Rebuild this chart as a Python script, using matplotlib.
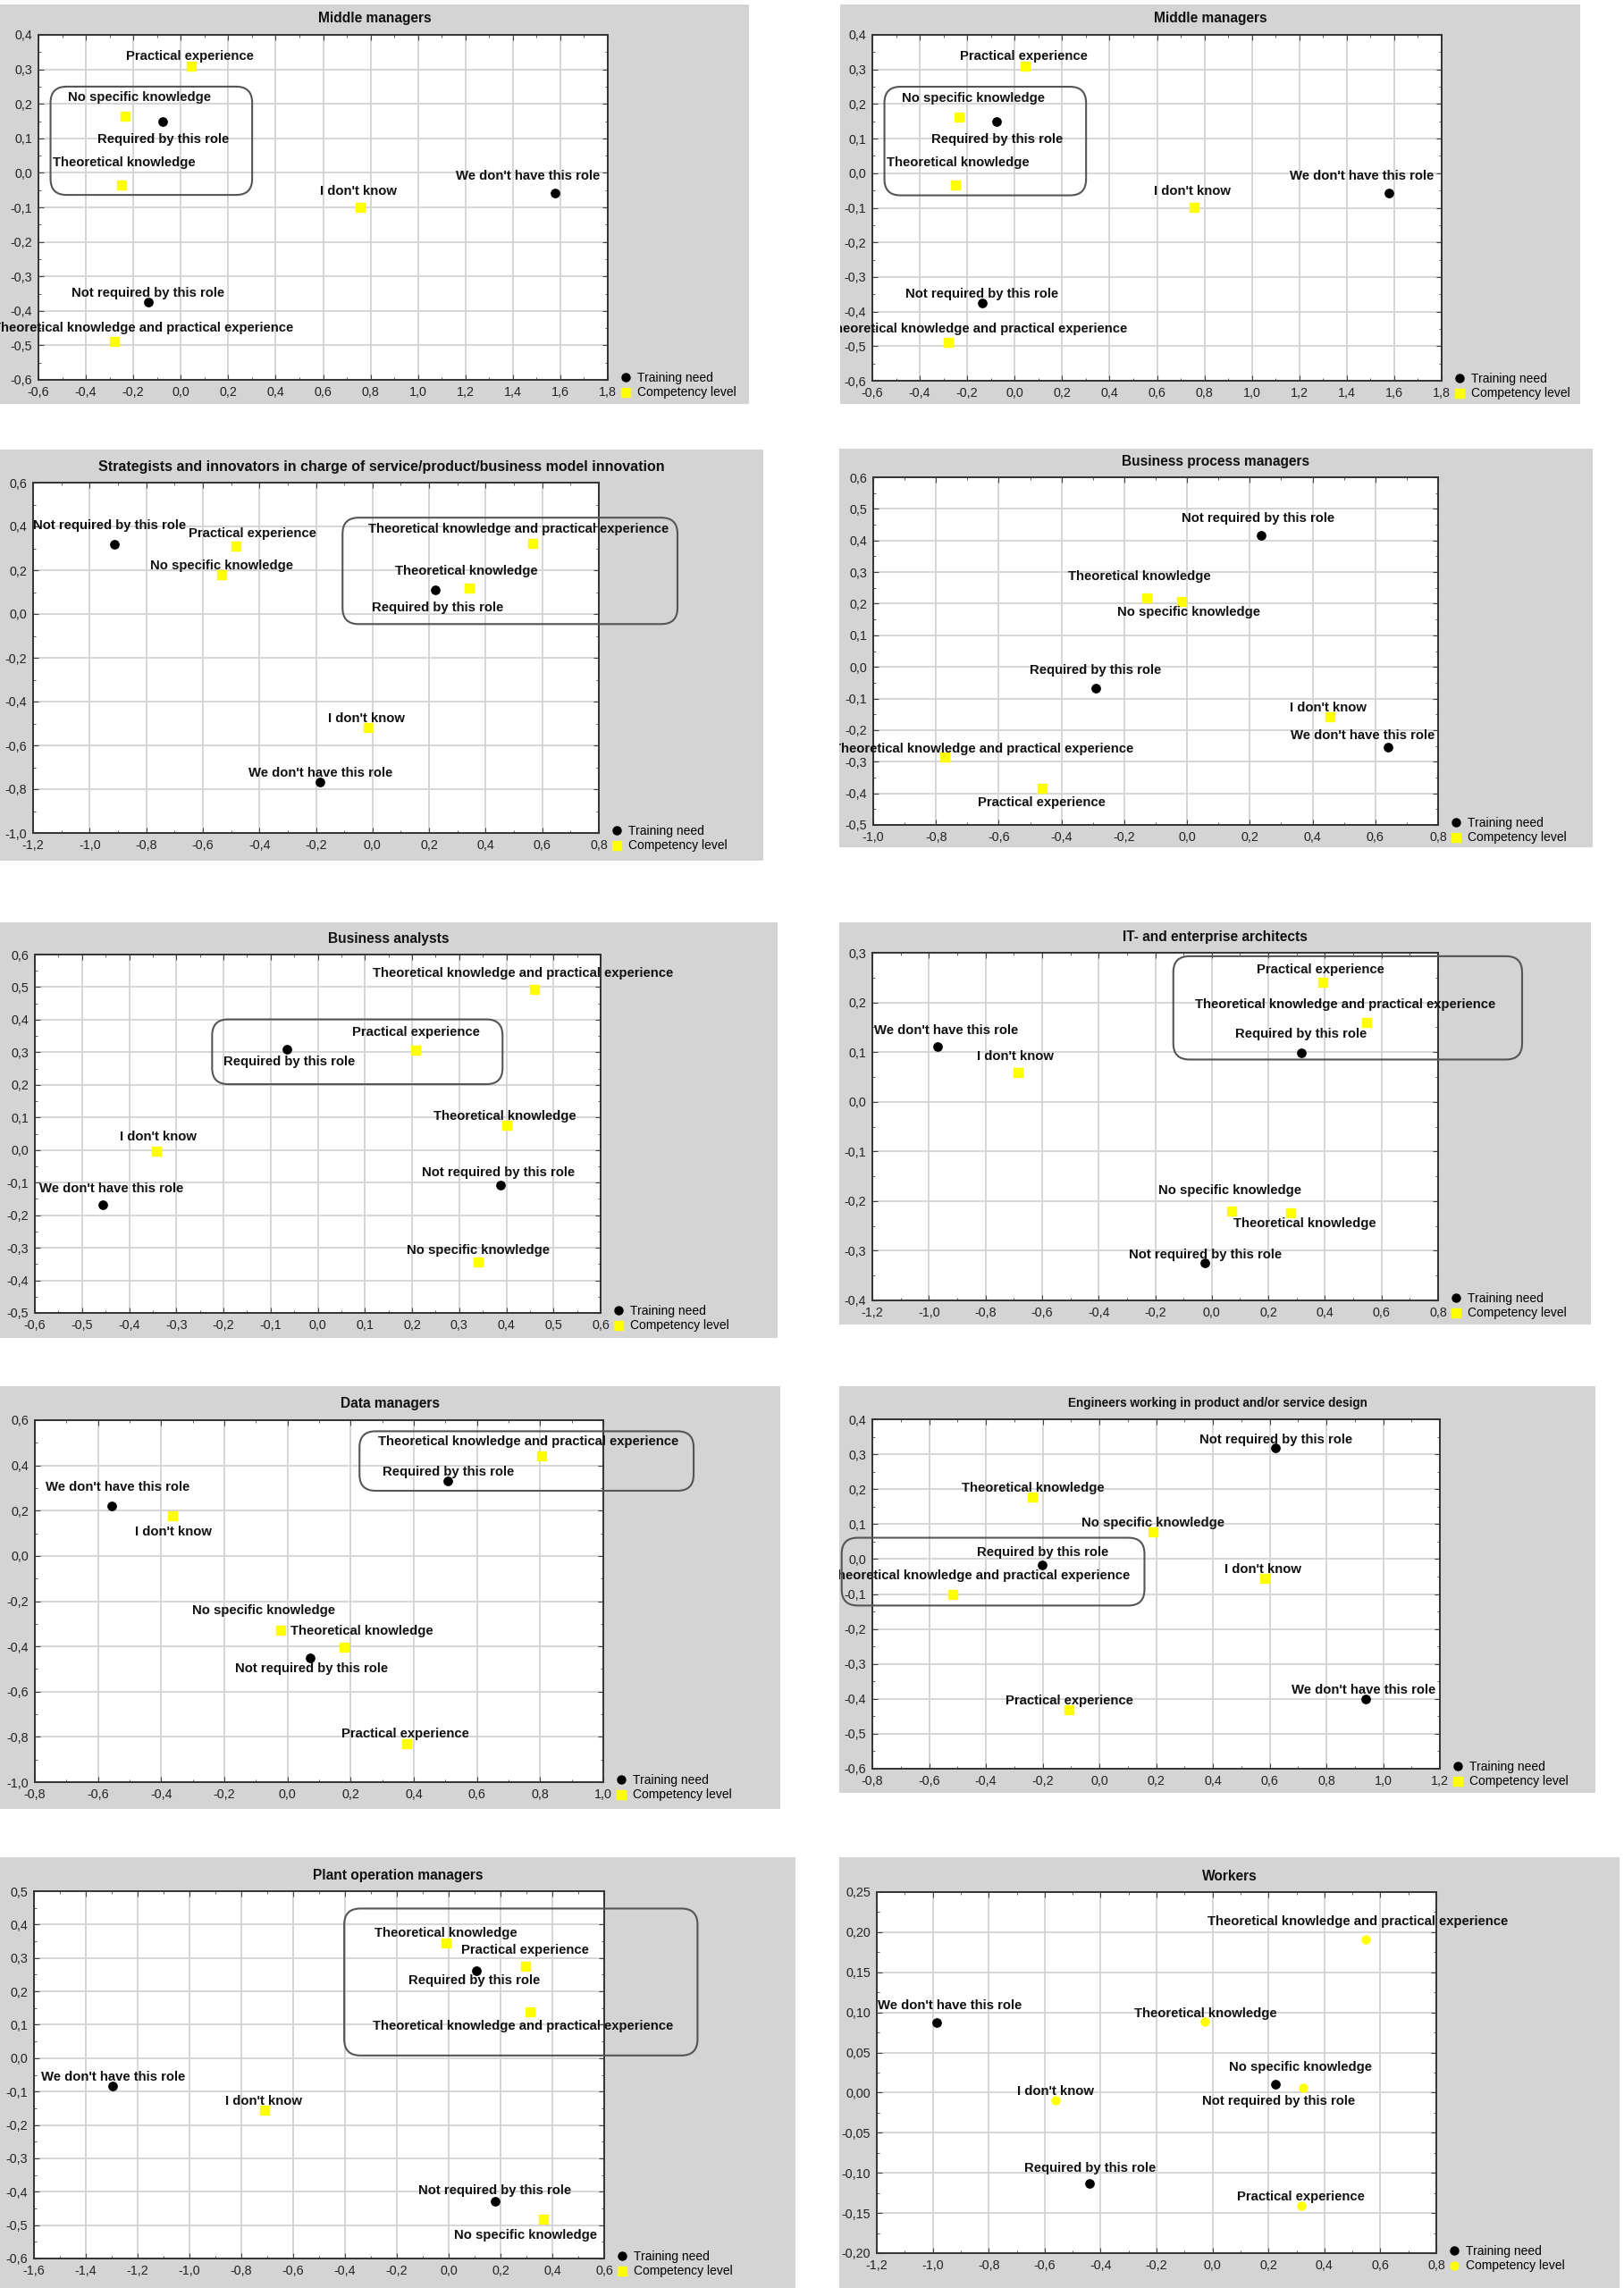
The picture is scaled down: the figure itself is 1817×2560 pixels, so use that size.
import matplotlib
matplotlib.use("Agg")
import matplotlib.pyplot as plt
from matplotlib.patches import Rectangle, FancyBboxPatch
from matplotlib.lines import Line2D
from matplotlib.ticker import MultipleLocator, AutoMinorLocator, FuncFormatter

plt.rcParams['font.family'] = ['Liberation Sans', 'DejaVu Sans']

# categories (same in every panel)
need_cats = ["Required by this role", "Not required by this role", "We don't have this role"]
comp_cats = ["No specific knowledge", "Theoretical knowledge", "Practical experience",
             "Theoretical knowledge and practical experience", "I don't know"]
legend_labels = ["Training need", "Competency level"]

# Middle managers
mm_need_x = [-0.078, -0.135, 1.577]
mm_need_y = [0.149, -0.375, -0.058]
mm_comp_x = [-0.235, -0.248, 0.045, -0.278, 0.758]
mm_comp_y = [0.163, -0.034, 0.31, -0.489, -0.099]

# Strategists and innovators
st_need_x = [0.223, -0.913, -0.187]
st_need_y = [0.111, 0.317, -0.769]
st_comp_x = [-0.533, 0.342, -0.482, 0.565, -0.015]
st_comp_y = [0.181, 0.12, 0.31, 0.324, -0.519]

# Business process managers
bp_need_x = [-0.292, 0.236, 0.640]
bp_need_y = [-0.066, 0.417, -0.255]
bp_comp_x = [-0.016, -0.129, -0.4625, -0.771, 0.456]
bp_comp_y = [0.207, 0.219, -0.385, -0.286, -0.159]

# Business analysts
ba_need_x = [-0.066, 0.387, -0.456]
ba_need_y = [0.310, -0.107, -0.169]
ba_comp_x = [0.341, 0.40, 0.208, 0.459, -0.342]
ba_comp_y = [-0.345, 0.076, 0.307, 0.493, -0.004]

# IT- and enterprise architects
it_need_x = [0.316, -0.024, -0.968]
it_need_y = [0.098, -0.325, 0.111]
it_comp_x = [0.070, 0.278, 0.391, 0.548, -0.685]
it_comp_y = [-0.22, -0.224, 0.24, 0.159, 0.058]

# Data managers
dm_need_x = [0.508, 0.071, -0.557]
dm_need_y = [0.331, -0.449, 0.219]
dm_comp_x = [-0.022, 0.178, 0.377, 0.805, -0.365]
dm_comp_y = [-0.327, -0.403, -0.831, 0.443, 0.176]

# Engineers
en_need_x = [-0.201, 0.621, 0.938]
en_need_y = [-0.016, 0.319, -0.401]
en_comp_x = [0.190, -0.235, -0.107, -0.517, 0.584]
en_comp_y = [0.079, 0.178, -0.431, -0.1, -0.054]

# Plant operation managers
po_need_x = [0.107, 0.178, -1.296]
po_need_y = [0.262, -0.43, -0.084]
po_comp_x = [0.364, -0.010, 0.298, 0.313, -0.709]
po_comp_y = [-0.483, 0.345, 0.276, 0.140, -0.155]

# Workers
wk_need_x = [-0.440, 0.224, -0.986]
wk_need_y = [-0.113, 0.010, 0.087]
wk_comp_x = [0.323, -0.028, 0.316, 0.548, -0.561]
wk_comp_y = [0.006, 0.088, -0.141, 0.191, -0.009]

W, H = 1817, 2560
fig = plt.figure(figsize=(W / 100, H / 100), dpi=100)


def comma(dec):
    def f(v, pos):
        s = f"{v:.{dec}f}"
        if abs(v) < 10 ** (-dec) / 2:
            s = f"{0:.{dec}f}"
        return s.replace('.', ',')
    return FuncFormatter(f)


def panel(bg, plot, title, xlim, xstep, ylim, ystep, ydec,
          nx, ny, noff, cx, cy, coff, cmarker='s', box=None, tsize=11.2):
    x0, y0, x1, y1 = bg
    rect = Rectangle((x0 / W, 1 - y1 / H), (x1 - x0) / W, (y1 - y0) / H,
                     transform=fig.transFigure, facecolor='#d4d4d4',
                     edgecolor='none', zorder=-5)
    fig.add_artist(rect)
    l, t, r, b = plot
    ax = fig.add_axes([l / W, 1 - b / H, (r - l) / W, (b - t) / H])
    ax.set_facecolor('white')
    ax.set_xlim(*xlim)
    ax.set_ylim(*ylim)
    ax.xaxis.set_major_locator(MultipleLocator(xstep))
    ax.yaxis.set_major_locator(MultipleLocator(ystep))
    ax.xaxis.set_minor_locator(AutoMinorLocator(2))
    ax.yaxis.set_minor_locator(AutoMinorLocator(2))
    ax.xaxis.set_major_formatter(comma(1))
    ax.yaxis.set_major_formatter(comma(ydec))
    ax.tick_params(which='both', direction='in', top=True, right=True,
                   color='#444444', labelsize=10.3, labelcolor='#222222')
    ax.tick_params(which='major', length=4, pad=5)
    ax.tick_params(which='minor', length=2)
    ax.grid(True, which='major', color='#d6d6d6', lw=1.4)
    ax.set_axisbelow(True)
    for s in ax.spines.values():
        s.set_color('#333333')
        s.set_linewidth(1.4)

    ax.scatter(nx, ny, s=45, c='black', marker='o', zorder=3, clip_on=False)
    ax.scatter(cx, cy, s=42, c='#ffff00', marker=cmarker, zorder=3, clip_on=False)

    for cats, xs, ys, offs in ((need_cats, nx, ny, noff), (comp_cats, cx, cy, coff)):
        for cat, x, y, o in zip(cats, xs, ys, offs):
            a = ax.annotate(cat, (x, y), xytext=o, textcoords='offset pixels',
                            ha='center', va='center', fontsize=10.7,
                            fontweight='bold', color='#111111', zorder=4,
                            clip_on=True, annotation_clip=False)
            a.set_clip_path(rect)

    if box is not None:
        bx0, bx1, by0, by1 = box
        xpp = (xlim[1] - xlim[0]) / (r - l)
        ypp = (ylim[1] - ylim[0]) / (b - t)
        p = FancyBboxPatch((bx0, by0), bx1 - bx0, by1 - by0,
                           boxstyle=f"round,pad=0,rounding_size={18 * xpp}",
                           mutation_aspect=ypp / xpp, facecolor='none',
                           edgecolor='#555555', lw=1.5, clip_on=False, zorder=5)
        ax.add_patch(p)

    handles = [Line2D([], [], ls='none', marker='o', color='black', markersize=6.5),
               Line2D([], [], ls='none', marker=cmarker, color='#ffff00', markersize=6.5)]
    ax.legend(handles, legend_labels, loc='center left', frameon=False,
              bbox_to_anchor=(1 + 14 / (r - l), -6 / (b - t)), borderpad=0,
              borderaxespad=0, handlelength=0.8, handletextpad=0.6,
              labelspacing=0.2, fontsize=10)

    fig.text((x0 + x1) / 2 / W, 1 - (t - 18) / H, title, ha='center', va='center',
             fontsize=tsize, fontweight='bold', color='#111111')
    return ax


mm_noff = [(1, -20), (-1, 10), (-30, 19)]
mm_coff = [(16, 21), (2, 25), (-2, 11), (32, 15), (-2, 18)]
mm_box = (-0.549, 0.301, -0.064, 0.25)

panel((0, 5, 838, 452), (43, 39, 680, 425), "Middle managers",
      (-0.6, 1.8), 0.2, (-0.6, 0.4), 0.1, 1,
      mm_need_x, mm_need_y, mm_noff, mm_comp_x, mm_comp_y, mm_coff, box=mm_box)

panel((940, 5, 1768, 452), (976, 39, 1613, 426), "Middle managers",
      (-0.6, 1.8), 0.2, (-0.6, 0.4), 0.1, 1,
      mm_need_x, mm_need_y, mm_noff, mm_comp_x, mm_comp_y, mm_coff, box=mm_box)

panel((0, 503, 854, 963), (37, 540, 670, 932),
      "Strategists and innovators in charge of service/product/business model innovation",
      (-1.2, 0.8), 0.2, (-1.0, 0.6), 0.2, 1,
      st_need_x, st_need_y, [(2, -20), (-5, 21), (1, 10)],
      st_comp_x, st_comp_y, [(0, 10), (-3, 19), (18, 14), (-15, 16), (-2, 10)],
      box=(-0.106, 1.078, -0.046, 0.44), tsize=11.5)

panel((939, 502, 1782, 948), (977, 534, 1609, 923), "Business process managers",
      (-1.0, 0.8), 0.2, (-0.5, 0.6), 0.1, 1,
      bp_need_x, bp_need_y, [(0, 20), (-3, 19), (-28, 13)],
      bp_comp_x, bp_comp_y, [(8, -12), (-8, 24), (0, -16), (43, 9), (-2, 10)])

panel((0, 1032, 870, 1497), (39, 1068, 672, 1469), "Business analysts",
      (-0.6, 0.6), 0.1, (-0.5, 0.6), 0.1, 1,
      ba_need_x, ba_need_y, [(3, -14), (-2, 14), (10, 18)],
      ba_comp_x, ba_comp_y, [(0, 13), (-2, 10), (0, 20), (-12, 18), (2, 16)],
      box=(-0.224, 0.392, 0.202, 0.401))

panel((939, 1032, 1780, 1482), (976, 1066, 1609, 1455), "IT- and enterprise architects",
      (-1.2, 0.8), 0.2, (-0.4, 0.3), 0.1, 1,
      it_need_x, it_need_y, [(0, 21), (0, 9), (9, 18)],
      it_comp_x, it_comp_y, [(-2, 23), (16, -12), (-2, 14), (-24, 20), (-3, 18)],
      box=(-0.136, 1.097, 0.085, 0.293))

panel((0, 1551, 873, 2024), (39, 1589, 675, 1994), "Data managers",
      (-0.8, 1.0), 0.2, (-1.0, 0.6), 0.2, 1,
      dm_need_x, dm_need_y, [(0, 10), (2, -12), (7, 21)],
      dm_comp_x, dm_comp_y, [(-19, 22), (20, 18), (-1, 11), (-15, 16), (1, -18)],
      box=(0.228, 1.286, 0.288, 0.551))

panel((939, 1551, 1785, 2006), (976, 1588, 1611, 1979),
      "Engineers working in product and/or service design",
      (-0.8, 1.2), 0.2, (-0.6, 0.4), 0.1, 1,
      en_need_x, en_need_y, [(0, 14), (0, 9), (-2, 10)],
      en_comp_x, en_comp_y, [(0, 10), (0, 10), (0, 10), (30, 20), (-2, 10)],
      box=(-0.908, 0.159, -0.133, 0.061), tsize=9.8)

panel((0, 2078, 890, 2560), (38, 2116, 676, 2527), "Plant operation managers",
      (-1.6, 0.6), 0.2, (-0.6, 0.5), 0.1, 1,
      po_need_x, po_need_y, [(-2, -11), (0, 12), (0, 10)],
      po_comp_x, po_comp_y, [(-20, -18), (0, 11), (-1, 18), (-8, -16), (-1, 10)],
      box=(-0.403, 0.96, 0.008, 0.448))

panel((939, 2078, 1812, 2560), (981, 2117, 1607, 2521), "Workers",
      (-1.2, 0.8), 0.2, (-0.2, 0.25), 0.05, 2,
      wk_need_x, wk_need_y, [(1, 17), (4, -19), (15, 19)],
      wk_comp_x, wk_comp_y, [(-3, 23), (1, 9), (0, 10), (-9, 20), (0, 10)],
      cmarker='o')

fig.savefig("out.png", dpi=100, facecolor='white')
